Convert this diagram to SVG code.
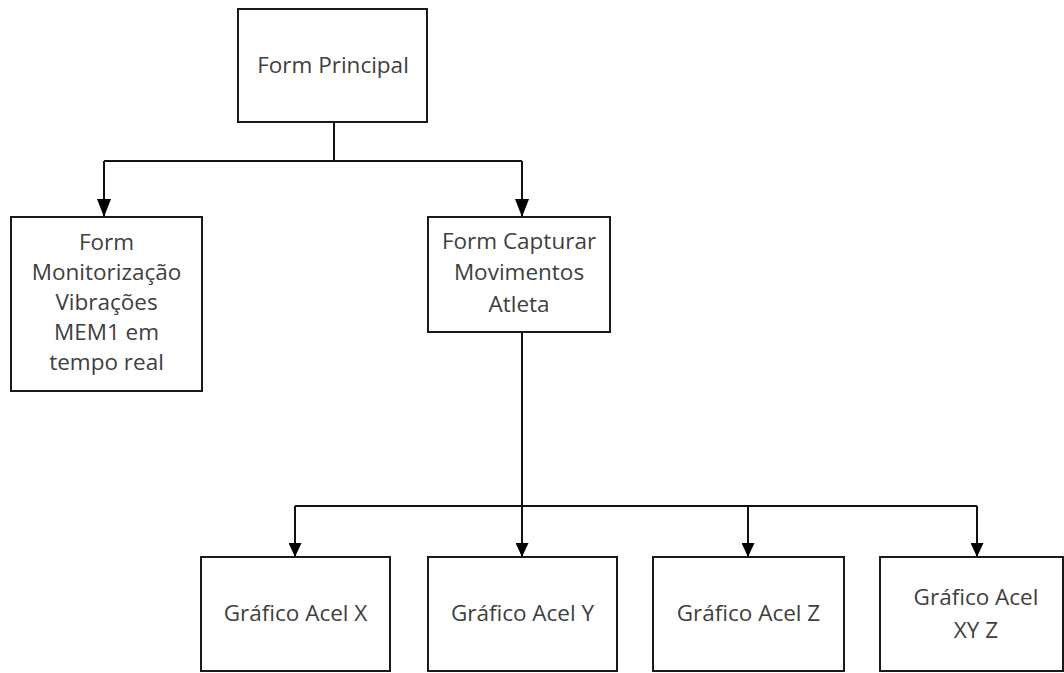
<svg xmlns="http://www.w3.org/2000/svg" width="1064" height="673" viewBox="0 0 1064 673">
  <style>
    .box { fill: #ffffff; stroke: #1a1a1a; stroke-width: 2; }
    .lbl { font-family: "Open Sans", "Liberation Sans", sans-serif; font-size: 22.5px; fill: #404040; text-anchor: middle; }
    .wire { fill: none; stroke: #111111; stroke-width: 2; }
  </style>
  <defs>
    <marker id="arrowBig" markerUnits="userSpaceOnUse" markerWidth="18" markerHeight="14" refX="18" refY="7" orient="auto" viewBox="0 0 18 14">
      <path d="M0,0 L18,7 L0,14 Z" fill="#000000"/>
    </marker>
    <marker id="arrowSmall" markerUnits="userSpaceOnUse" markerWidth="14" markerHeight="13" refX="14" refY="6.5" orient="auto" viewBox="0 0 14 13">
      <path d="M0,0 L14,6.5 L0,13 Z" fill="#000000"/>
    </marker>
  </defs>

  <!-- connectors -->
  <g id="connectors">
    <path class="wire" d="M334,122 V161"/>
    <path class="wire" d="M104,161 H522"/>
    <path class="wire" d="M104,161 V217" marker-end="url(#arrowBig)"/>
    <path class="wire" d="M522,161 V217" marker-end="url(#arrowBig)"/>
    <path class="wire" d="M522,332 V506"/>
    <path class="wire" d="M295,506 H977"/>
    <path class="wire" d="M295,506 V557" marker-end="url(#arrowSmall)"/>
    <path class="wire" d="M522,506 V557" marker-end="url(#arrowSmall)"/>
    <path class="wire" d="M748,506 V557" marker-end="url(#arrowSmall)"/>
    <path class="wire" d="M977,506 V557" marker-end="url(#arrowSmall)"/>
  </g>

  <g id="form-principal">
    <rect class="box" x="238" y="9" width="189" height="113"/>
    <text class="lbl" x="333" y="73">Form Principal</text>
  </g>

  <g id="form-monitorizacao">
    <rect class="box" x="11" y="217" width="191" height="174"/>
    <text class="lbl" x="106.5" y="250">Form</text>
    <text class="lbl" x="106.5" y="280">Monitorização</text>
    <text class="lbl" x="106.5" y="310">Vibrações</text>
    <text class="lbl" x="106.5" y="340">MEM1 em</text>
    <text class="lbl" x="106.5" y="370">tempo real</text>
  </g>

  <g id="form-capturar">
    <rect class="box" x="428" y="217" width="182" height="115"/>
    <text class="lbl" x="519" y="249">Form Capturar</text>
    <text class="lbl" x="519" y="280">Movimentos</text>
    <text class="lbl" x="519" y="312">Atleta</text>
  </g>

  <g id="grafico-x">
    <rect class="box" x="201" y="557" width="189" height="114"/>
    <text class="lbl" x="295.5" y="621">Gráfico Acel X</text>
  </g>

  <g id="grafico-y">
    <rect class="box" x="428" y="557" width="189" height="114"/>
    <text class="lbl" x="522.5" y="621">Gráfico Acel Y</text>
  </g>

  <g id="grafico-z">
    <rect class="box" x="653" y="557" width="191" height="114"/>
    <text class="lbl" x="748.5" y="621">Gráfico Acel Z</text>
  </g>

  <g id="grafico-xyz">
    <rect class="box" x="880" y="557" width="183" height="114"/>
    <text class="lbl" x="976" y="605">Gráfico Acel</text>
    <text class="lbl" x="976" y="638">XY Z</text>
  </g>
</svg>
